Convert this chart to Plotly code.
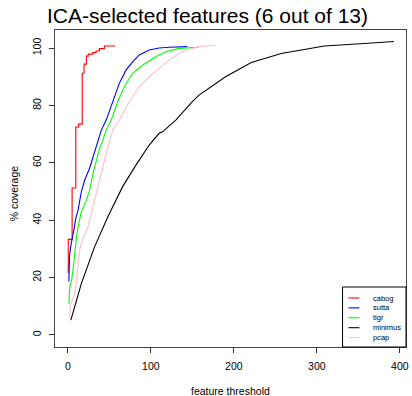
import plotly.graph_objects as go

# Coverage curves: % coverage reached at each feature threshold
series_names = ["cabog", "sutta", "tigr", "minimus", "pcap"]
series_colors = ["#FF0000", "#0000FF", "#00FF00", "#000000", "#FFC0CB"]

cabog_x = [0.5, 0.5, 5.1, 9.6, 13, 17.3, 19.5, 22.3, 24.5, 30, 34, 38, 44, 57]
cabog_y = [21.6, 33.3, 51.2, 72.5, 73.5, 91.2, 94.4, 97.2, 97.9, 98.4, 99, 99.8, 100.7, 100.7]

sutta_x = [1.2, 1.2, 2.0, 3.5, 5.5, 7.5, 9.6, 12.3, 16.3, 20.3, 26.3, 30.3, 36.2, 40.3, 46.2,
           54, 62, 70, 78, 86, 98, 110, 122, 144]
sutta_y = [18.6, 22, 27.5, 31, 33.5, 37, 40.7, 43.5, 50, 54, 58.2, 62.1, 67.4, 71.4, 74.9,
           81.3, 87.7, 92.3, 95.2, 97.6, 99.3, 100, 100.3, 100.5]

tigr_x = [1.5, 1.5, 2.5, 4.5, 7.2, 8.4, 10.4, 12.3, 16.3, 22.3, 26.3, 30.3, 34.3, 38.2, 42.2,
          46.2, 52.2, 60, 68, 78, 90, 106, 118, 134, 158]
tigr_y = [10.7, 13, 17.2, 19, 25, 29.6, 34.3, 37.7, 43, 47, 50.5, 56.3, 61, 65, 68,
          71.4, 74.9, 81.3, 86.5, 91.2, 94, 97, 98.7, 99.9, 100.3]

minimus_x = [3.6, 16.3, 32.3, 48.2, 66, 82, 98, 110, 114, 130, 150, 158, 190, 221, 257, 309, 357, 393]
minimus_y = [5.2, 18, 30.8, 41.2, 51.7, 59.2, 66.2, 70.3, 70.8, 74.9, 81.3, 83.6, 90, 95, 98.1,
             100.7, 101.6, 102.3]

pcap_x = [2.2, 3, 6, 8.4, 10.4, 12.3, 14.3, 16.3, 19, 24.3, 30.3, 36.2, 42.2, 48.2, 54.1, 62,
          74, 86, 98, 110, 122, 134, 146, 158, 178]
pcap_y = [5.8, 10.5, 12.5, 14.6, 19.2, 25, 29.6, 32, 34, 37.7, 44.7, 51.7, 58.6, 65.6, 71.4, 74.9,
          81.3, 86.5, 90, 92.9, 95.8, 98.2, 99.5, 100.5, 101]

x_ticks = [0, 100, 200, 300, 400]
y_ticks = [0, 20, 40, 60, 80, 100]

series_data = {
    "cabog": (cabog_x, cabog_y, "hv"),
    "sutta": (sutta_x, sutta_y, "linear"),
    "tigr": (tigr_x, tigr_y, "linear"),
    "minimus": (minimus_x, minimus_y, "linear"),
    "pcap": (pcap_x, pcap_y, "linear"),
}

FONT = "Liberation Sans, Arial, Helvetica, sans-serif"
fig = go.Figure()
for name, color in zip(series_names, series_colors):
    xs, ys, shape = series_data[name]
    fig.add_trace(go.Scatter(x=xs, y=ys, mode="lines", name=name,
                             line=dict(color=color, width=1.1, shape=shape),
                             showlegend=False))

# plot area in pixels: x 55..409, y 30..347
L, R, T, B = 55, 409, 30, 347
W, H = 412, 396
pw, ph = R - L, B - T

def px_x(p):
    return (p - L) / pw

def px_y(p):
    return (B - p) / ph

# boxed legend in the lower-right corner
shapes = [dict(type="rect", xref="paper", yref="paper",
               x0=px_x(345), x1=px_x(409), y0=px_y(347), y1=px_y(287),
               line=dict(color="#000000", width=1), fillcolor="white", layer="above")]
annotations = []
for i, (name, color) in enumerate(zip(series_names, series_colors)):
    yy = px_y(298 + i * 9.9)
    shapes.append(dict(type="line", xref="paper", yref="paper",
                       x0=px_x(351), x1=px_x(362), y0=yy, y1=yy,
                       line=dict(color=color, width=1.1), layer="above"))
    annotations.append(dict(text=name, xref="paper", yref="paper", x=px_x(374), y=yy,
                            xanchor="left", yanchor="middle", showarrow=False,
                            font=dict(family=FONT, size=7.5, color="black")))

annotations.append(dict(text="ICA-selected features (6 out of 13)", xref="paper", yref="paper",
                        x=px_x(208.5), y=px_y(15), xanchor="center", yanchor="middle",
                        showarrow=False, font=dict(family=FONT, size=21, color="black")))
annotations.append(dict(text="feature threshold", xref="paper", yref="paper",
                        x=0.5, y=px_y(391), xanchor="center", yanchor="middle",
                        showarrow=False, font=dict(family=FONT, size=10.5, color="black")))
annotations.append(dict(text="% coverage", xref="paper", yref="paper",
                        x=px_x(14), y=px_y(193), xanchor="center", yanchor="middle",
                        textangle=-90, showarrow=False,
                        font=dict(family=FONT, size=10.5, color="black")))

fig.update_layout(
    width=W, height=H,
    margin=dict(l=L, r=W - R, t=T, b=H - B, pad=0),
    paper_bgcolor="white", plot_bgcolor="white",
    font=dict(family=FONT, size=10.5, color="black"),
    shapes=shapes, annotations=annotations,
    xaxis=dict(range=[-15.5, 407.4], tickvals=x_ticks, ticks="outside", ticklen=5,
               tickcolor="#333", showline=True, mirror=True, linecolor="#444",
               linewidth=1, showgrid=False, zeroline=False, ticklabelstandoff=4),
    yaxis=dict(range=[-4.2, 106.3], tickvals=y_ticks, ticks="outside", ticklen=5,
               tickcolor="#333", showline=True, mirror=True, linecolor="#444",
               linewidth=1, showgrid=False, zeroline=False, tickangle=-90,
               ticklabelstandoff=4),
)

fig.write_html("out.html")
